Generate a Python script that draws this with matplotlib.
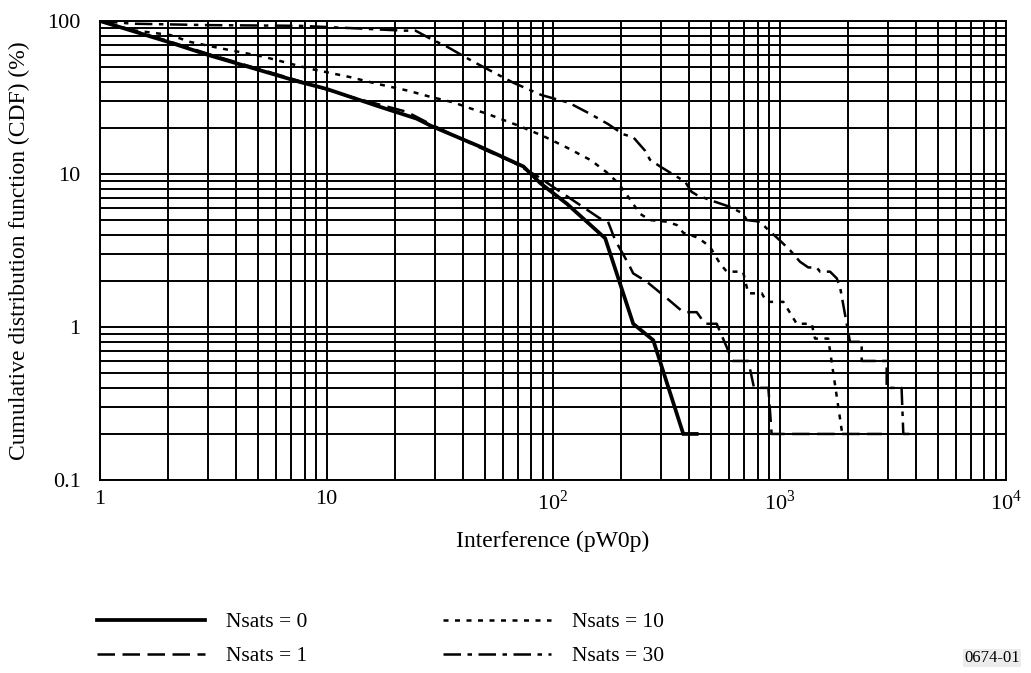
import matplotlib
matplotlib.use("Agg")
import matplotlib.pyplot as plt

plt.rcParams['font.family'] = ['Liberation Serif', 'DejaVu Serif']
plt.rcParams['mathtext.fontset'] = 'custom'
plt.rcParams['mathtext.rm'] = 'Liberation Serif'

# CDF curves: interference (pW0p) vs CDF (%)
x_n0 = [1, 2, 3, 7.6, 10, 17.2, 25, 29, 47.6, 74, 88, 115, 170, 226, 277, 376, 431]
y_n0 = [100, 73, 60, 40, 36, 27.5, 23, 20.6, 15.1, 11.2, 8.7, 6.4, 3.8, 1.05, 0.82, 0.2, 0.2]

x_n1 = [1, 2, 3, 7.6, 12.7, 22.6, 29.1, 37.6, 50, 66.8, 86, 97, 125, 161, 175, 188, 215,
        226, 259, 312, 376, 431, 469, 528, 621, 728, 772, 893, 923, 2833]
y_n1 = [100, 74, 61, 40.5, 32, 25.5, 21, 17.5, 14.4, 11.9, 9.6, 8.5, 6.6, 5.13, 4.88, 3.7, 2.6,
        2.24, 1.98, 1.58, 1.25, 1.25, 1.05, 1.05, 0.6, 0.6, 0.4, 0.4, 0.2, 0.2]

x_n10 = [1, 1.4, 2.04, 2.5, 3.39, 5.26, 8.32, 12.7, 16.9, 23, 28.6, 36.3, 43, 51, 71, 90.6,
         115, 147, 175, 194, 212, 242, 268, 318, 352, 376, 431, 461, 493, 546, 585, 690,
         728, 835, 878, 1040, 1191, 1387, 1435, 1641, 1893]
y_n10 = [100, 87, 81, 73, 66.4, 58.5, 49, 43, 38.7, 35, 32, 29.4, 26.9, 24.8, 20.6, 17.7,
         14.9, 12.3, 10.1, 8.7, 7.3, 5.5, 5.0, 4.88, 4.64, 4.13, 3.86, 3.61, 3.35, 2.6, 2.3, 2.3,
         1.66, 1.66, 1.46, 1.46, 1.05, 1.05, 0.84, 0.84, 0.2]

x_n30 = [1, 1.4, 3, 7.6, 13.6, 21.8, 24.7, 29.1, 34, 44.5, 66.8, 89, 117, 146, 175, 204, 226,
         255, 268, 297, 383, 409, 431, 493, 604, 692, 716, 820, 878, 1000, 1112, 1232, 1340,
         1459, 1510, 1672, 1790, 1850, 2047, 2306, 2306, 2973, 2973, 3459, 3521, 3900]
y_n30 = [100, 96, 94, 93, 89.5, 86.5, 86.5, 75.9, 68, 54.2, 39.5, 32.8, 29.3, 24.7, 21.2, 18.2,
         17.4, 14.2, 12.4, 11.2, 8.9, 7.65, 7.3, 6.76, 6.1, 5.5, 5.0, 4.88, 4.41, 3.7, 3.18, 2.67,
         2.45, 2.45, 2.3, 2.3, 2.08, 1.83, 0.8, 0.8, 0.6, 0.6, 0.4, 0.4, 0.2, 0.2]

labels = ['Nsats = 0', 'Nsats = 1', 'Nsats = 10', 'Nsats = 30']
x_ticks = [1, 10, 100, 1000, 10000]
x_ticklabels = ['1', '10', '10$^2$', '10$^3$', '10$^4$']
y_ticks = [0.1, 1, 10, 100]
y_ticklabels = ['0.1', '1', '10', '100']

fig = plt.figure(figsize=(10.31, 6.73), dpi=100)
ax = fig.add_axes([100 / 1031, 1 - 480 / 673, 906 / 1031, 459 / 673])

l0, = ax.plot(x_n0, y_n0, color='black', lw=2.7, solid_joinstyle='miter')
l1, = ax.plot(x_n1, y_n1, color='black', lw=1.8, dashes=(7, 3))
l10, = ax.plot(x_n10, y_n10, color='black', lw=1.8, dashes=(2, 2.6))
l30, = ax.plot(x_n30, y_n30, color='black', lw=1.8, dashes=(7, 2.6, 1.8, 2.6))

ax.set_xscale('log')
ax.set_yscale('log')
ax.set_xlim(1, 1e4)
ax.set_ylim(0.1, 100)
ax.grid(True, which='both', color='black', lw=1.4)
ax.set_axisbelow(True)
for s in ax.spines.values():
    s.set_linewidth(1.4)

ax.set_xticks(x_ticks)
ax.set_xticklabels(x_ticklabels)
ax.set_yticks(y_ticks)
ax.set_yticklabels(y_ticklabels)
ax.tick_params(which='both', length=0, labelsize=16)
ax.tick_params(axis='x', pad=7)
ax.tick_params(axis='y', pad=14)

ax.set_xlabel('Interference (pW0p)', fontsize=17)
ax.xaxis.set_label_coords(0.5, -0.11)
ax.set_ylabel('Cumulative distribution function (CDF) (%)', fontsize=17)
ax.yaxis.set_label_coords(-0.077, 0.5)

fig.legend([l0, l1, l10, l30], labels, ncol=2, frameon=False, fontsize=15.5,
           loc='upper left', bbox_to_anchor=(97 / 1031, 1 - 612 / 673),
           borderpad=0, borderaxespad=0,
           handlelength=5.0, handletextpad=1.0, columnspacing=6.3, labelspacing=0.65)

fig.text(1020 / 1031, 1 - 658 / 673, '0674-01', fontsize=12, ha='right', va='center',
         bbox=dict(facecolor='#ececec', edgecolor='none', pad=1))

fig.savefig('out.png', dpi=100)
